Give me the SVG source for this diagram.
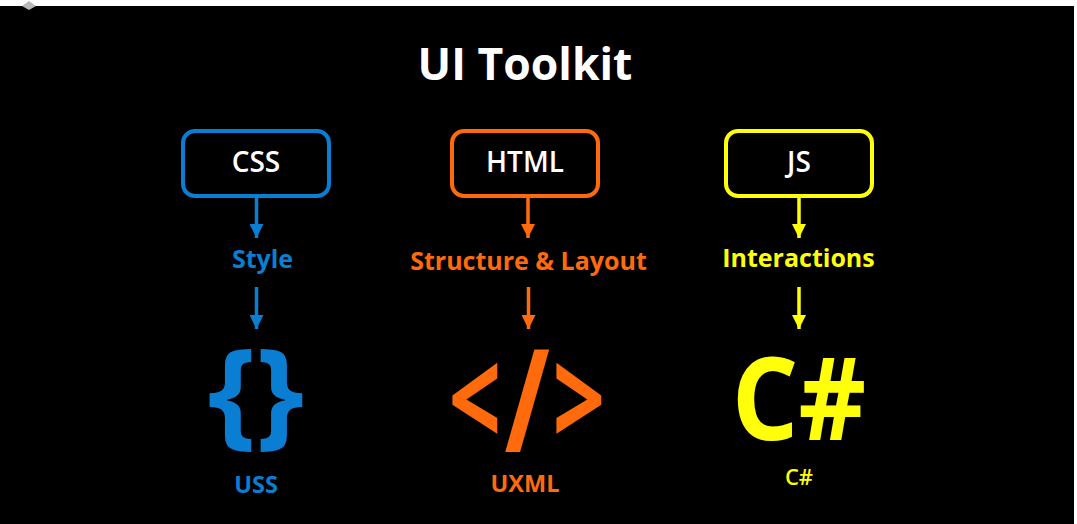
<svg xmlns="http://www.w3.org/2000/svg" width="1077" height="524" viewBox="0 0 1077 524">
<style>
text{font-family:"Open Sans","Noto Sans","Liberation Sans",sans-serif;font-weight:700;text-anchor:middle}
.box{fill:#000;stroke-width:4}
.w{fill:#fff;font-size:28px;font-weight:600}
.lab{font-size:25px}
.end{font-size:23.500px}
.b{fill:#0a7ed2}.o{fill:#ff6a0d}.y{fill:#ffff0a}
.sb{stroke:#0a7ed2}.so{stroke:#ff6a0d}.sy{stroke:#ffff0a}
.c{stroke-width:3.500;fill:none}
</style>
<defs>
<marker id="ab" markerUnits="userSpaceOnUse" markerWidth="14" markerHeight="14" refX="14" refY="7" orient="auto"><path d="M0,0L14,7L0,14Z" fill="#0a7ed2"/></marker>
<marker id="ao" markerUnits="userSpaceOnUse" markerWidth="14" markerHeight="14" refX="14" refY="7" orient="auto"><path d="M0,0L14,7L0,14Z" fill="#ff6a0d"/></marker>
<marker id="ay" markerUnits="userSpaceOnUse" markerWidth="14" markerHeight="14" refX="14" refY="7" orient="auto"><path d="M0,0L14,7L0,14Z" fill="#ffff0a"/></marker>
</defs>
<rect width="1077" height="524" fill="#fff"/>
<rect x="0" y="6" width="1074" height="518" fill="#000"/>
<path d="M22,6L29,1L36,6L29,10Z" fill="#b8b8b8"/>
<text x="525" y="79.500" fill="#fff" style="font-size:44.500px" id="title">UI Toolkit</text>
<g id="connectors">
<path class="c sb" marker-end="url(#ab)" d="M256.500,197V238"/>
<path class="c sb" marker-end="url(#ab)" d="M256.500,287V329"/>
<path class="c so" marker-end="url(#ao)" d="M528,197V238"/>
<path class="c so" marker-end="url(#ao)" d="M528.500,287V329"/>
<path class="c sy" marker-end="url(#ay)" d="M799,197V238"/>
<path class="c sy" marker-end="url(#ay)" d="M799,287V329"/>
</g>
<g id="css"><rect class="box sb" x="183" y="131" width="146" height="65" rx="12"/><text class="w" x="256" y="172">CSS</text></g>
<g id="html"><rect class="box so" x="452" y="131" width="146" height="65" rx="12"/><text class="w" x="525" y="172">HTML</text></g>
<g id="js"><rect class="box sy" x="726" y="131" width="146" height="65" rx="12"/><text class="w" x="799" y="172">JS</text></g>
<g id="style"><text class="lab b" x="262.500" y="268">Style</text></g>
<g id="structure"><text class="lab o" x="528.500" y="270">Structure &amp; Layout</text></g>
<g id="interactions"><text class="lab y" x="798.500" y="267">Interactions</text></g>
<g id="uss-icon"><text class="b" x="0" y="0" transform="translate(232,433) scale(1.04,1)" style="font-size:118px">{</text><text class="b" x="0" y="0" transform="translate(280,433) scale(1.04,1)" style="font-size:118px">}</text></g>
<g id="uxml-icon"><text class="o" x="0" y="0" transform="translate(475,447) scale(1.1,1.6)" style="font-size:84px">&lt;</text><text class="o" x="0" y="0" transform="translate(579,447) scale(1.1,1.6)" style="font-size:84px">&gt;</text><text class="o" x="0" y="0" transform="translate(527,452) scale(0.76,1)" style="font-size:144px">/</text></g>
<g id="cs-icon"><text class="y" x="0" y="0" transform="translate(799,440) scale(0.91,1)" style="font-size:115px">C#</text></g>
<g id="uss"><text class="end b" x="256" y="493">USS</text></g>
<g id="uxml"><text class="end o" x="525" y="491.500">UXML</text></g>
<g id="cs"><text class="y" x="799" y="485" style="font-size:22px;font-weight:600">C#</text></g>
</svg>
